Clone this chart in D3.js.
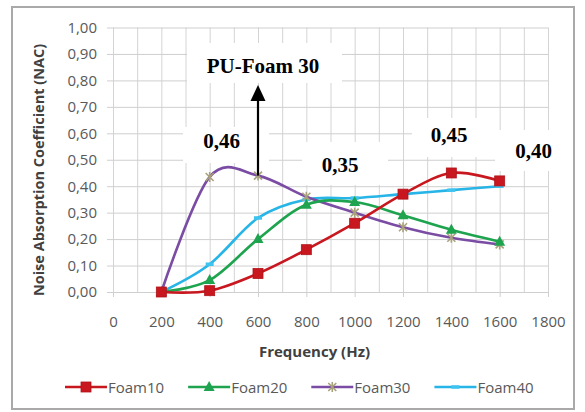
<!DOCTYPE html>
<html>
<head>
<meta charset="utf-8">
<script src="https://cdn.jsdelivr.net/npm/d3@7"></script>
<style>
  html, body { margin: 0; padding: 0; background: #ffffff; }
  svg { display: block; }
</style>
</head>
<body>
<svg id="chart" width="585" height="412"></svg>
<script>
// ---- data ----
const frequencies = [200, 400, 600, 800, 1000, 1200, 1400, 1600];
const seriesNames = ["Foam10", "Foam20", "Foam30", "Foam40"];
const foam10 = [0.00, 0.005, 0.07, 0.16, 0.26, 0.37, 0.45, 0.42];
const foam20 = [0.00, 0.045, 0.20, 0.33, 0.34, 0.29, 0.235, 0.19];
const foam30 = [0.00, 0.435, 0.44, 0.36, 0.30, 0.245, 0.205, 0.18];
const foam40 = [0.00, 0.105, 0.28, 0.35, 0.355, 0.37, 0.385, 0.40];
const xTicks = [0, 200, 400, 600, 800, 1000, 1200, 1400, 1600, 1800];
const yTicks = [0, 0.1, 0.2, 0.3, 0.4, 0.5, 0.6, 0.7, 0.8, 0.9, 1.0];
const annotations = ["PU-Foam 30", "0,46", "0,35", "0,45", "0,40"];
const xTitle = "Frequency (Hz)";
const yTitle = "Noise Absorption Coefficient (NAC)";

(function () {
const seriesValues = [foam10, foam20, foam30, foam40];
const colors = ["#c8171f", "#1ea34f", "#7a4ca3", "#27b4e6"];
const markers = ["square", "triangle", "star", "dash"];

const svg = d3.select("#chart");
const font = "'Open Sans', 'DejaVu Sans', sans-serif";

// outer frame
svg.append("rect")
  .attr("x", 12).attr("y", 7).attr("width", 562).attr("height", 402)
  .attr("fill", "#ffffff").attr("stroke", "#a9a9a9").attr("stroke-width", 2);

const pL = 113, pR = 548, pT = 27.5, pB = 292;
const x = d3.scaleLinear().domain([0, 1800]).range([pL, pR]);
const y = d3.scaleLinear().domain([0, 1]).range([pB, pT]);

// gridlines
const vGrid = d3.range(0, 1801, 100);
svg.append("g")
  .attr("transform", `translate(0,${pB})`)
  .call(d3.axisBottom(x).tickValues(vGrid).tickSize(-(pB - pT)).tickFormat(""))
  .call(g => g.select(".domain").remove())
  .call(g => g.selectAll("line").attr("stroke", "#d4d4d4").attr("stroke-width", 1));
svg.append("g")
  .attr("transform", `translate(${pL},0)`)
  .call(d3.axisLeft(y).tickValues(yTicks).tickSize(-(pR - pL)).tickFormat(""))
  .call(g => g.select(".domain").remove())
  .call(g => g.selectAll("line").attr("stroke", "#cfcfcf").attr("stroke-width", 1));

// small tick marks + labels
const fmt = d => d3.format(".2f")(d).replace(".", ",");
svg.append("g")
  .attr("transform", `translate(${pL},0)`)
  .call(d3.axisLeft(y).tickValues(yTicks).tickSize(6).tickPadding(10).tickFormat(fmt))
  .call(g => g.select(".domain").remove())
  .call(g => g.selectAll("line").attr("stroke", "#cfcfcf"))
  .call(g => g.selectAll("text").attr("font-family", font).attr("font-size", 15).attr("fill", "#595959"));
svg.append("g")
  .attr("transform", `translate(0,${pB})`)
  .call(d3.axisBottom(x).tickValues(xTicks).tickSize(5).tickPadding(19).tickFormat(d3.format("d")))
  .call(g => g.select(".domain").remove())
  .call(g => g.selectAll("line").attr("stroke", "#cfcfcf"))
  .call(g => g.selectAll("text").attr("font-family", font).attr("font-size", 15).attr("fill", "#595959"));

// axis titles
svg.append("text")
  .attr("x", (pL + pR) / 2 - 16).attr("y", 357)
  .attr("text-anchor", "middle")
  .attr("font-family", font).attr("font-size", 15).attr("font-weight", "bold")
  .attr("fill", "#404040").text(xTitle);
svg.append("text")
  .attr("transform", "translate(38.5,170) rotate(-90)")
  .attr("text-anchor", "middle").attr("dominant-baseline", "central")
  .attr("font-family", font).attr("font-size", 14.5).attr("font-weight", "bold")
  .attr("fill", "#404040").text(yTitle);

// annotation boxes (behind the series)
const boxes = [
  [187, 43, 155, 40],
  [183, 127, 86, 36],
  [302, 142, 86, 43],
  [412, 118, 83, 39],
  [495, 130, 73, 41]
];
svg.append("g").selectAll("rect").data(boxes).join("rect")
  .attr("x", d => d[0]).attr("y", d => d[1]).attr("width", d => d[2]).attr("height", d => d[3])
  .attr("fill", "#ffffff");

// marker drawing
function drawMarker(g, type, color, cx, cy) {
  if (type === "square") {
    g.append("rect").attr("x", cx - 5).attr("y", cy - 5).attr("width", 10).attr("height", 10)
      .attr("fill", color).attr("stroke", "#b0141b").attr("stroke-width", 0.8);
  } else if (type === "triangle") {
    g.append("path").attr("d", `M${cx},${cy - 6}L${cx + 5.5},${cy + 4}L${cx - 5.5},${cy + 4}Z`)
      .attr("fill", color);
  } else if (type === "star") {
    g.append("path")
      .attr("d", `M${cx - 4},${cy - 4}L${cx + 4},${cy + 4}M${cx - 4},${cy + 4}L${cx + 4},${cy - 4}M${cx},${cy - 5}L${cx},${cy + 5}`)
      .attr("stroke", "#a8a27c").attr("stroke-width", 1.6).attr("fill", "none");
  } else if (type === "dash") {
    g.append("path").attr("d", `M${cx - 4},${cy}L${cx + 4},${cy}`)
      .attr("stroke", "#3fc3ef").attr("stroke-width", 3.5);
  }
}

// series (Foam10 on top)
const line = d3.line()
  .x((d, i) => x(frequencies[i]))
  .y(d => y(d))
  .curve(d3.curveCardinal.tension(0));

[3, 2, 1, 0].forEach(si => {
  const g = svg.append("g");
  g.append("path")
    .attr("d", line(seriesValues[si]))
    .attr("fill", "none").attr("stroke", colors[si]).attr("stroke-width", 2.6)
    .attr("stroke-linejoin", "round");
  seriesValues[si].forEach((v, i) => drawMarker(g, markers[si], colors[si], x(frequencies[i]), y(v)));
});

// arrow pointing to Foam30 at 600 Hz
const ax = x(600);
svg.append("line")
  .attr("x1", ax).attr("x2", ax).attr("y1", y(foam30[2])).attr("y2", 100)
  .attr("stroke", "#000").attr("stroke-width", 2.2);
svg.append("path")
  .attr("d", `M${ax},85L${ax + 7.5},101L${ax - 7.5},101Z`).attr("fill", "#000");

// annotation texts
const annPos = [[263, 72.5], [221.5, 148], [340, 172], [449, 142], [533.5, 158]];
svg.append("g").selectAll("text").data(annotations).join("text")
  .attr("x", (d, i) => annPos[i][0]).attr("y", (d, i) => annPos[i][1])
  .attr("text-anchor", "middle")
  .attr("font-family", "'Liberation Serif', 'Times New Roman', serif")
  .attr("font-size", 21).attr("font-weight", "bold").attr("fill", "#000")
  .text(d => d);

// legend
const legend = svg.append("g").attr("transform", "translate(65,387)");
let lx = 0;
seriesNames.forEach((name, si) => {
  const g = legend.append("g").attr("transform", `translate(${lx},0)`);
  g.append("line").attr("x1", 0).attr("x2", 42).attr("y1", 0).attr("y2", 0)
    .attr("stroke", colors[si]).attr("stroke-width", 2.6);
  drawMarker(g, markers[si], colors[si], 21, 0);
  const t = g.append("text").attr("x", 43).attr("y", 0)
    .attr("dominant-baseline", "central")
    .attr("font-family", font).attr("font-size", 15).attr("fill", "#595959")
    .text(name);
  lx += 43 + t.node().getComputedTextLength() + 24;
});
})();
</script>
</body>
</html>
